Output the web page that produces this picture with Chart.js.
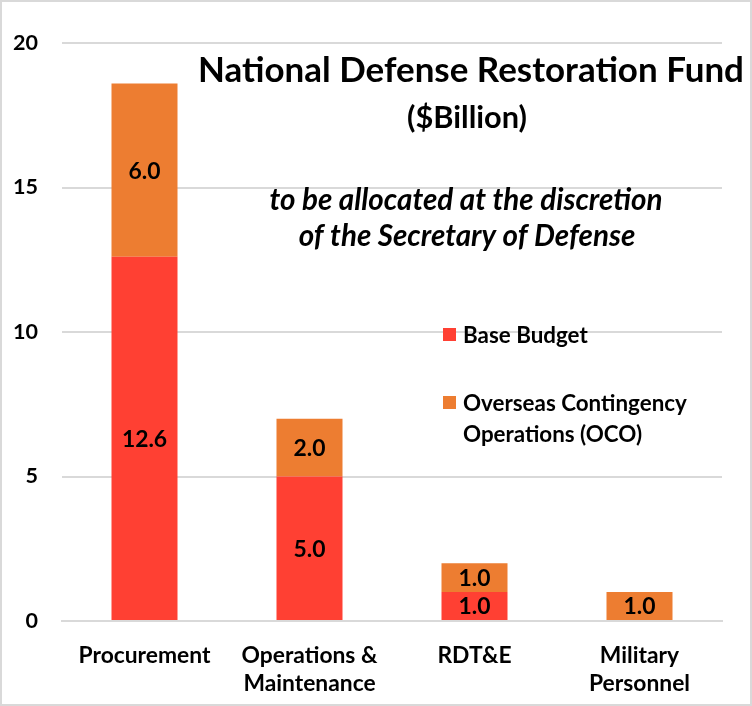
<!DOCTYPE html>
<html>
<head>
<meta charset="utf-8">
<script src="https://cdn.jsdelivr.net/npm/chart.js@4.4.0/dist/chart.umd.min.js"></script>
<style>
  body { margin: 0; background: #fff; }
  canvas { display: block; }
</style>
</head>
<body>
<canvas id="fundChart" width="752" height="706"></canvas>
<script>
// data
const categories = [['Procurement'], ['Operations &', 'Maintenance'], ['RDT&E'], ['Military', 'Personnel']];
const baseBudget = [12.6, 5.0, 1.0, 0];
const ocoBudget = [6.0, 2.0, 1.0, 1.0];
const yTicks = [0, 5, 10, 15, 20];

const FONT = 'Lato, "Open Sans", sans-serif';
const RED = '#FF4033';
const ORANGE = '#ED7D31';

// pick a font size so that a string comes out at the width seen in the picture
const measureCtx = document.createElement('canvas').getContext('2d');
function fitSize(text, width, style) {
  measureCtx.font = (style || 'bold') + ' 100px ' + FONT;
  return 100 * width / measureCtx.measureText(text).width;
}

const tickSize = fitSize('20', 25);
const xSize = fitSize('Procurement', 132);
const labelSize = fitSize('6.0', 32);

const ctx = document.getElementById('fundChart');

// value labels inside the bars
const valueLabels = {
  id: 'valueLabels',
  afterDatasetsDraw(chart) {
    const c = chart.ctx;
    c.save();
    c.font = 'bold ' + labelSize + 'px ' + FONT;
    c.fillStyle = '#000';
    c.textAlign = 'center';
    c.textBaseline = 'middle';
    chart.data.datasets.forEach((ds, i) => {
      chart.getDatasetMeta(i).data.forEach((bar, j) => {
        const v = ds.data[j];
        if (!v) return;
        c.fillText(v.toFixed(1), bar.x, (bar.y + bar.base) / 2 + 1);
      });
    });
    c.restore();
  }
};

// titles, note and legend drawn inside the plot like the original
const overlay = {
  id: 'overlay',
  afterDraw(chart) {
    const c = chart.ctx;
    c.save();
    c.fillStyle = '#000';
    c.textBaseline = 'middle';
    c.textAlign = 'center';

    let s = fitSize('National Defense Restoration Fund', 546);
    c.font = 'bold ' + s + 'px ' + FONT;
    c.fillText('National Defense Restoration Fund', 471, 71);

    s = fitSize('($Billion)', 120);
    c.font = 'bold ' + s + 'px ' + FONT;
    c.fillText('($Billion)', 467, 118);

    s = fitSize('to be allocated at the discretion', 393, 'italic bold');
    c.font = 'italic bold ' + s + 'px ' + FONT;
    c.fillText('to be allocated at the discretion', 466, 200);
    c.fillText('of the Secretary of Defense', 467, 236);

    // legend
    s = fitSize('Overseas Contingency', 224);
    c.font = 'bold ' + s + 'px ' + FONT;
    c.textAlign = 'left';
    c.fillStyle = RED;
    c.fillRect(443, 328, 13, 13);
    c.fillStyle = ORANGE;
    c.fillRect(443, 396, 13, 13);
    c.fillStyle = '#000';
    c.fillText('Base Budget', 463, 336);
    c.fillText('Overseas Contingency', 463, 404);
    c.fillText('Operations (OCO)', 463, 435);

    // frame
    c.strokeStyle = '#d9d9d9';
    c.lineWidth = 2;
    c.strokeRect(1, 1, 750, 704);
    c.restore();
  }
};

new Chart(ctx, {
  type: 'bar',
  data: {
    labels: categories,
    datasets: [
      { label: 'Base Budget', data: baseBudget, backgroundColor: RED, barPercentage: 0.4, categoryPercentage: 1 },
      { label: 'Overseas Contingency Operations (OCO)', data: ocoBudget, backgroundColor: ORANGE, barPercentage: 0.4, categoryPercentage: 1 }
    ]
  },
  options: {
    responsive: false,
    animation: false,
    devicePixelRatio: 1,
    layout: { padding: { top: 43, right: 30, left: 0, bottom: 0 } },
    plugins: {
      legend: { display: false },
      title: { display: false },
      tooltip: { enabled: false }
    },
    scales: {
      x: {
        stacked: true,
        grid: { display: false },
        border: { color: '#d9d9d9', width: 2 },
        ticks: {
          color: '#000',
          font: { family: FONT, weight: 'bold', size: xSize, lineHeight: 1.25 },
          padding: 12,
          maxRotation: 0
        },
        afterFit(scale) { scale.height = 85; }
      },
      y: {
        stacked: true,
        min: yTicks[0],
        max: yTicks[yTicks.length - 1],
        afterBuildTicks(scale) { scale.ticks = yTicks.map(v => ({ value: v })); },
        grid: { color: '#d9d9d9', lineWidth: 2, drawTicks: false },
        border: { display: false },
        ticks: {
          color: '#000',
          font: { family: FONT, weight: 'bold', size: tickSize },
          padding: 24
        },
        afterFit(scale) { scale.width = 62; }
      }
    }
  },
  plugins: [valueLabels, overlay]
});
</script>
</body>
</html>
